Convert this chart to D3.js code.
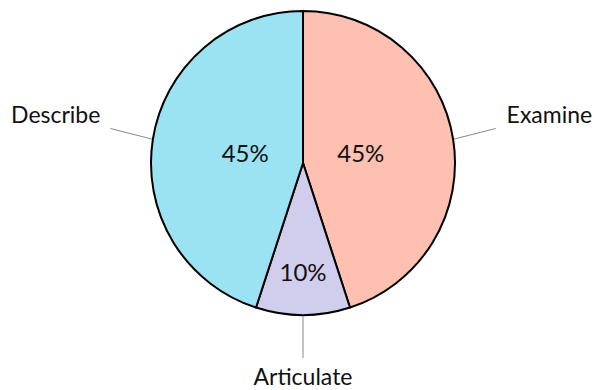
<!DOCTYPE html>
<html>
<head>
<meta charset="utf-8">
<script src="https://cdn.jsdelivr.net/npm/d3@7"></script>
<style>
  body { margin: 0; background: #fff; }
  text { font-family: Lato, "Open Sans", sans-serif; fill: #111; }
</style>
</head>
<body>
<svg id="chart" width="594" height="390"></svg>
<script>
// slices, clockwise from 12 o'clock
const categories = ['Examine', 'Articulate', 'Describe'];
const shares     = [45, 10, 45];
const colours    = ['#fec0b1', '#d1cdec', '#9be3f3'];

const width  = 594,
      height = 390,
      cx     = 303,
      cy     = 163,
      radius = 152;

const svg = d3.select('#chart');
const g   = svg.append('g').attr('transform', `translate(${cx},${cy})`);

const pie = d3.pie().sort(null).value(d => d.value);
const arcs = pie(categories.map((c, i) => ({name: c, value: shares[i], colour: colours[i]})));

const arc = d3.arc().innerRadius(0).outerRadius(radius);

g.selectAll('path.slice')
    .data(arcs)
    .join('path')
    .attr('class', 'slice')
    .attr('d', arc)
    .attr('fill', d => d.data.colour)
    .attr('stroke', '#000')
    .attr('stroke-width', 2)
    .attr('stroke-linejoin', 'round');

const mid   = d => (d.startAngle + d.endAngle) / 2;
const polar = (a, r) => [r * Math.sin(a), -r * Math.cos(a)];

// percent labels: big slices sit nearer the centre
g.selectAll('text.pct')
    .data(arcs)
    .join('text')
    .attr('class', 'pct')
    .attr('text-anchor', 'middle')
    .attr('font-size', 24)
    .attr('transform', d => {
        const p = polar(mid(d), radius * (d.data.value > 20 ? 0.385 : 0.72));
        return `translate(${p[0]},${p[1] + 8.5})`;
    })
    .text(d => d.data.value + '%');

// leader lines and category labels
const lineOut = radius + 43;

g.selectAll('line.leader')
    .data(arcs)
    .join('line')
    .attr('class', 'leader')
    .attr('stroke', '#8a8a8a')
    .attr('stroke-width', 1)
    .each(function (d) {
        const a  = mid(d);
        const p0 = polar(a, radius + 1);
        const p1 = polar(a, lineOut);
        const side = Math.abs(Math.sin(a)) > 0.5;
        d3.select(this)
            .attr('x1', p0[0]).attr('y1', p0[1])
            .attr('x2', p1[0]).attr('y2', p1[1] - (side ? 4 : 0));
    });

g.selectAll('text.name')
    .data(arcs)
    .join('text')
    .attr('class', 'name')
    .attr('font-size', 23)
    .each(function (d) {
        const a = mid(d);
        const p = polar(a, lineOut);
        const s = Math.sin(a);
        const t = d3.select(this);
        if (Math.abs(s) > 0.5) {
            t.attr('text-anchor', s > 0 ? 'start' : 'end')
             .attr('x', p[0] + (s > 0 ? 11 : -10))
             .attr('y', p[1] - 10);
        } else {
            t.attr('text-anchor', 'middle')
             .attr('x', p[0])
             .attr('y', p[1] + 27);
        }
    })
    .text(d => d.data.name);
</script>
</body>
</html>
